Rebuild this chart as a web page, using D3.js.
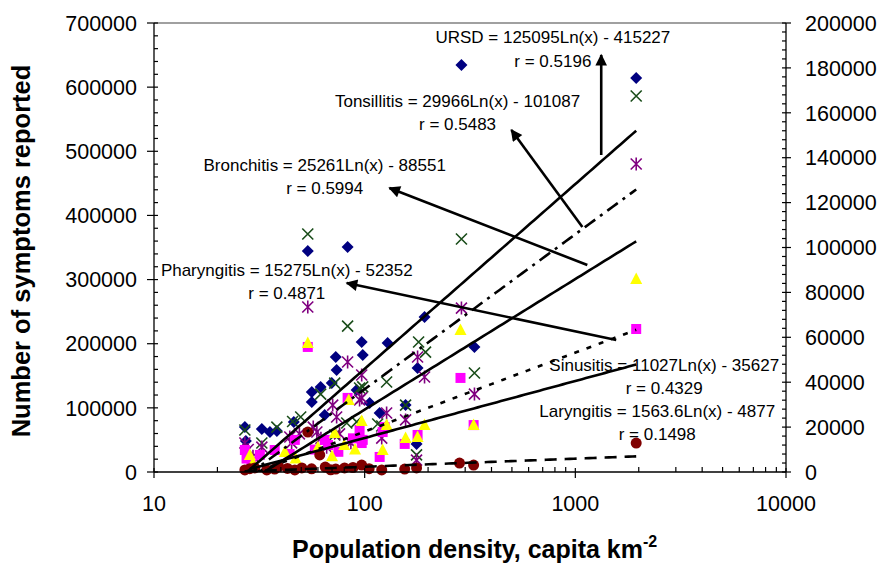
<!DOCTYPE html>
<html><head><meta charset="utf-8">
<script src="https://cdn.jsdelivr.net/npm/d3@7"></script>
<style>
body{margin:0;background:#fff;}
text{font-family:"Liberation Sans",Arial,sans-serif;}
</style></head>
<body><svg id="c" width="883" height="564"></svg>
<script>
// ---- data (population density, symptoms) ----
const ursd = [[27.0,70200],[27.3,48300],[32.5,67000],[35.5,62400],[38.3,63900],[46.1,78000],[53.7,344500],[56.1,124700],[56.1,109100],[61.8,132500],[64.6,88900],[69.8,138800],[72.9,179300],[73.6,159000],[83.0,350800],[91.6,127800],[96.8,202700],[97.9,182400],[105.6,107600],[117.8,92000],[128.5,201100],[156.4,104500],[176.3,43700],[178.3,162100],[192.4,241600],[288,634500],[332,194900],[1945,614300]];
const tonsillitis = [[27.0,18700],[32.5,12900],[38.3,20000],[45.5,22500],[49.7,24500],[53.7,106000],[61.8,34700],[72.1,39600],[72.1,16500],[82.2,21800],[83.0,65000],[91.6,22300],[94.6,37400],[97.9,37900],[115.3,21400],[120.5,20500],[127.1,40100],[156.4,29800],[176.3,7600],[180.3,57900],[194.5,53400],[288,103800],[332,44100],[1945,167500]];
const bronchitis = [[27.0,12900],[28.0,10000],[29.5,7000],[32.5,11100],[44.1,15600],[45.0,13000],[49.0,17000],[53.7,73500],[57.0,20000],[59.3,17800],[62.0,15000],[66.0,11000],[70.5,29800],[73.6,24500],[76.0,17000],[83.0,49000],[86.0,13000],[94.6,32100],[96.8,43200],[96.8,33000],[120.5,15100],[127.1,26300],[156.4,23200],[176.3,5300],[178.3,51200],[192.4,42300],[288,73000],[332,34700],[1945,137200]];
const pharyngitis = [[27.0,9800],[27.5,6000],[29.0,4500],[31.8,7600],[37.4,9800],[44.0,8000],[46.6,14300],[53.7,55700],[58.0,10000],[64.6,14300],[67.0,12000],[75.0,9000],[83.0,33000],[88.0,15000],[94.6,18700],[97.9,14300],[121.7,17800],[124.4,20000],[96.8,12900],[117.8,6700],[154.9,12500],[178.3,16500],[285,41900],[329,20900],[1945,63700]];
const sinusitis = [[28.5,7600],[29.5,4000],[41.8,8900],[47.0,6000],[53.7,57500],[60.0,11000],[70.0,7000],[72.1,17400],[80.0,12000],[84.0,32100],[90.0,10000],[96.8,22700],[127.1,20900],[121.7,9800],[156.4,15100],[178.3,15600],[192.4,20900],[285,63200],[329,20900],[1945,86000]];
const laryngitis = [[27.0,900],[28.5,1500],[30.1,1800],[34.3,900],[37.4,1300],[39.0,2500],[43.0,1600],[46.6,900],[50.3,1800],[53.7,17800],[56.0,1400],[61.2,7600],[65.0,2200],[69.0,1000],[72.9,1300],[80.3,1800],[88.0,2000],[96.8,3100],[105.0,1500],[120.5,900],[154.9,1300],[176.3,1800],[282,4000],[329,3100],[1945,12900]];

// trendline coefficients: a*ln(x) + b
const trendA = {URSD:125095, Tonsillitis:29966, Bronchitis:25261, Pharyngitis:15275, Sinusitis:11027, Laryngitis:1563.6};
const trendB = {URSD:-415227, Tonsillitis:-101087, Bronchitis:-88551, Pharyngitis:-52352, Sinusitis:-35627, Laryngitis:-4877};
const rValues = {URSD:"0.5196", Tonsillitis:"0.5483", Bronchitis:"0.5994", Pharyngitis:"0.4871", Sinusitis:"0.4329", Laryngitis:"0.1498"};
const eqLabels = {URSD:"URSD = 125095Ln(x) - 415227", Tonsillitis:"Tonsillitis = 29966Ln(x) - 101087", Bronchitis:"Bronchitis = 25261Ln(x) - 88551", Pharyngitis:"Pharyngitis = 15275Ln(x) - 52352", Sinusitis:"Sinusitis = 11027Ln(x) - 35627", Laryngitis:"Laryngitis = 1563.6Ln(x) - 4877"};
// label anchor [density, left-axis value of first baseline]
const labelPos = {URSD:[782,668800], Tonsillitis:[276,569800], Bronchitis:[64.6,469300], Pharyngitis:[42.7,305600], Sinusitis:[2642,157500], Laryngitis:[2448,86200]};
// arrows [tailDensity, tailValue, tipDensity, tipValue] (left-axis units)
const arrows = [[1327,494200,1327,650100],[1080,381950,497,533200],[1140,322700,131,442750],[1564,205800,82.2,294650]];

const xTicks = [10,100,1000,10000];
const leftTicks = [0,100000,200000,300000,400000,500000,600000,700000];
const rightTicks = [0,20000,40000,60000,80000,100000,120000,140000,160000,180000,200000];

// ---- layout ----
const L=154, R=786, T=23, B=472;
const svg = d3.select("#c");
const x = d3.scaleLog().domain([10,10000]).range([L,R]);
const yL = d3.scaleLinear().domain([0,700000]).range([B,T]);
const yR = d3.scaleLinear().domain([0,200000]).range([B,T]);

svg.append("defs").append("clipPath").attr("id","clip").append("rect")
  .attr("x",L).attr("y",T).attr("width",R-L).attr("height",B-T);
svg.select("defs").append("marker").attr("id","ah").attr("viewBox","0 0 10 10")
  .attr("refX",9).attr("refY",5).attr("markerWidth",5).attr("markerHeight",4.5)
  .attr("orient","auto").attr("markerUnits","strokeWidth")
  .append("path").attr("d","M0,0L10,5L0,10z").attr("fill","#000");

// plot border (top gray)
svg.append("line").attr("x1",L).attr("x2",R).attr("y1",T).attr("y2",T).attr("stroke","#808080").attr("stroke-width",1.3);

// ---- series ----
const series = [
  {name:"URSD", data:ursd, y:yL, type:"diamond", color:"#000080"},
  {name:"Tonsillitis", data:tonsillitis, y:yR, type:"x", color:"#1a4d1a"},
  {name:"Bronchitis", data:bronchitis, y:yR, type:"star", color:"#800080"},
  {name:"Pharyngitis", data:pharyngitis, y:yR, type:"square", color:"#ff00ff"},
  {name:"Sinusitis", data:sinusitis, y:yR, type:"triangle", color:"#ffff00"},
  {name:"Laryngitis", data:laryngitis, y:yR, type:"circle", color:"#800000"}
];
const gPts = svg.append("g");
series.forEach(s=>{
  const g = gPts.append("g");
  s.data.forEach(d=>{
    const cx = x(d[0]), cy = s.y(d[1]);
    if(s.type==="diamond"){
      g.append("path").attr("d",`M${cx},${cy-6}L${cx+6},${cy}L${cx},${cy+6}L${cx-6},${cy}Z`).attr("fill",s.color);
    } else if(s.type==="x"){
      g.append("path").attr("d",`M${cx-5.5},${cy-5.5}L${cx+5.5},${cy+5.5}M${cx-5.5},${cy+5.5}L${cx+5.5},${cy-5.5}`).attr("stroke",s.color).attr("stroke-width",1.6);
    } else if(s.type==="star"){
      g.append("path").attr("d",`M${cx-5.5},${cy-5.5}L${cx+5.5},${cy+5.5}M${cx-5.5},${cy+5.5}L${cx+5.5},${cy-5.5}M${cx},${cy-6.5}L${cx},${cy+6.5}`).attr("stroke",s.color).attr("stroke-width",1.6);
    } else if(s.type==="square"){
      g.append("rect").attr("x",cx-5).attr("y",cy-5).attr("width",10).attr("height",10).attr("fill",s.color);
    } else if(s.type==="triangle"){
      g.append("path").attr("d",`M${cx},${cy-6.5}L${cx+6},${cy+5}L${cx-6},${cy+5}Z`).attr("fill",s.color);
    } else {
      g.append("circle").attr("cx",cx).attr("cy",cy).attr("r",5.5).attr("fill",s.color);
    }
  });
});

// ---- trendlines ----
const dashes = {URSD:null, Tonsillitis:"13,6,3,6", Bronchitis:null, Pharyngitis:"5,8", Sinusitis:null, Laryngitis:"12,8"};
const gTr = svg.append("g").attr("clip-path","url(#clip)");
series.forEach(s=>{
  const xs = s.data.map(d=>d[0]);
  const lo = d3.min(xs), hi = d3.max(xs);
  const pts = d3.range(0,101).map(i=>{const xv = lo*Math.pow(hi/lo,i/100); return [xv, trendA[s.name]*Math.log(xv)+trendB[s.name]];});
  const line = d3.line().x(d=>x(d[0])).y(d=>s.y(Math.max(d[1],0)));
  gTr.append("path").attr("d",line(pts)).attr("fill","none").attr("stroke","#000").attr("stroke-width",2.6)
    .attr("stroke-dasharray",dashes[s.name]);
});

// ---- axes ----
const axisG = svg.append("g");
// left
axisG.append("line").attr("x1",L).attr("x2",L).attr("y1",T).attr("y2",B).attr("stroke","#000").attr("stroke-width",1.3);
d3.range(0,700001,20000).forEach(v=>{
  const major = v%100000===0;
  axisG.append("line").attr("x1",major?L-7:L).attr("x2",L+4).attr("y1",yL(v)).attr("y2",yL(v)).attr("stroke","#000").attr("stroke-width",1.2);
});
leftTicks.forEach(v=>{
  axisG.append("text").attr("x",137).attr("y",yL(v)).attr("dy","0.36em").attr("text-anchor","end").attr("font-size",21.5).text(d3.format("d")(v));
});
// right
axisG.append("line").attr("x1",R).attr("x2",R).attr("y1",T).attr("y2",B).attr("stroke","#000").attr("stroke-width",1.3);
d3.range(0,200001,4000).forEach(v=>{
  const major = v%20000===0;
  axisG.append("line").attr("x1",R-4).attr("x2",major?R+5:R).attr("y1",yR(v)).attr("y2",yR(v)).attr("stroke","#000").attr("stroke-width",1.2);
});
rightTicks.forEach(v=>{
  axisG.append("text").attr("x",805).attr("y",yR(v)).attr("dy","0.36em").attr("text-anchor","start").attr("font-size",21.5).text(d3.format("d")(v));
});
// bottom
axisG.append("line").attr("x1",L).attr("x2",R).attr("y1",B).attr("y2",B).attr("stroke","#000").attr("stroke-width",1.3);
[10,100,1000].forEach(dec=>{
  for(let k=2;k<=9;k++){
    const xv = x(dec*k);
    axisG.append("line").attr("x1",xv).attr("x2",xv).attr("y1",B-5).attr("y2",B).attr("stroke","#000").attr("stroke-width",1.2);
  }
});
xTicks.forEach(v=>{
  axisG.append("line").attr("x1",x(v)).attr("x2",x(v)).attr("y1",B-4).attr("y2",B+6).attr("stroke","#000").attr("stroke-width",1.2);
  axisG.append("text").attr("x",x(v)).attr("y",511).attr("text-anchor","middle").attr("font-size",21.5).text(v);
});

// ---- axis titles ----
svg.append("text").attr("transform","translate(30,251) rotate(-90)").attr("text-anchor","middle")
  .attr("font-size",25.5).attr("font-weight","bold").text("Number of symptoms reported");
const xt = svg.append("text").attr("x",292).attr("y",558).attr("font-size",25).attr("font-weight","bold");
xt.append("tspan").text("Population density, capita km");
xt.append("tspan").attr("dy",-11).attr("font-size",16).text("-2");

// ---- annotations ----
const gA = svg.append("g");
arrows.forEach(a=>{
  gA.append("line").attr("x1",x(a[0])).attr("y1",yL(a[1])).attr("x2",x(a[2])).attr("y2",yL(a[3]))
    .attr("stroke","#000").attr("stroke-width",2.6).attr("marker-end","url(#ah)");
});
series.forEach(s=>{
  const p = labelPos[s.name];
  const cx = x(p[0]), by = yL(p[1]);
  gA.append("text").attr("x",cx).attr("y",by).attr("text-anchor","middle").attr("font-size",17).text(eqLabels[s.name]);
  gA.append("text").attr("x",cx).attr("y",by+23.5).attr("text-anchor","middle").attr("font-size",17).text("r = "+rValues[s.name]);
});
</script></body></html>
